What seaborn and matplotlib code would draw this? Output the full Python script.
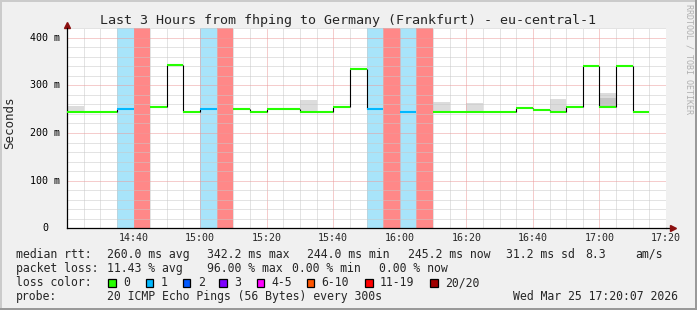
import numpy as np
import pandas as pd
import matplotlib
matplotlib.use("Agg")
import matplotlib.pyplot as plt
from matplotlib.patches import Rectangle
import seaborn as sns

# ---------------- data ----------------
# interval start, minutes after 14:20 (5-minute steps)
start_min = list(range(0, 180, 5))
median_ms = [245, 245, 245, 251, np.nan, 254, 342, 245, 251, np.nan,
             251, 245, 251, 251, 245, 245, 254, 335, 251, np.nan,
             245, np.nan, 245, 245, 245, 245, 245, 252, 249, 245,
             255, 341, 254, 341, 245, np.nan]
lost_pings = [0, 0, 0, 1, 19, 0, 0, 0, 1, 19,
              0, 0, 0, 0, 0, 0, 0, 0, 1, 19,
              1, 19, 0, 0, 0, 0, 0, 0, 0, 0,
              0, 0, 0, 0, 0, -1]
smoke_start = [0, 70, 110, 120, 145, 160]
smoke_low = [245, 245, 245, 245, 246, 253]
smoke_high = [257, 270, 265, 262, 271, 284]
dark_smoke_start = [160]
dark_smoke_low = [257]
dark_smoke_high = [274]

tick_min = [20, 40, 60, 80, 100, 120, 140, 160, 180]
tick_labels = ["14:40", "15:00", "15:20", "15:40", "16:00", "16:20", "16:40", "17:00", "17:20"]
y_ticks = [0, 100, 200, 300, 400]
y_labels = ["0", "100 m", "200 m", "300 m", "400 m"]

loss_names = ["0", "1", "2", "3", "4-5", "6-10", "11-19", "20/20"]
loss_colors = ["#26ff00", "#00b8ff", "#0059ff", "#7e00ff", "#ff00ff", "#ff5500", "#ff0000", "#a10000"]
loss_bg = {"1": "#a8e4fa", "11-19": "#ff8888"}

title = "Last 3 Hours from fhping to Germany (Frankfurt) - eu-central-1"
stats_lines = [
    ("median rtt:", [(107.3, "260.0 ms avg"), (207.3, "342.2 ms max"), (306.7, "244.0 ms min"),
                     (407.7, "245.2 ms now"), (505.7, "31.2 ms sd"), (585.0, "8.3"), (635.0, "am/s")]),
    ("packet loss:", [(107.3, "11.43 % avg"), (207.3, "96.00 % max"), (292.0, "0.00 % min"),
                      (379.3, "0.00 % now")]),
]
probe_text = "20 ICMP Echo Pings (56 Bytes) every 300s"
date_text = "Wed Mar 25 17:20:07 2026"


def loss_cat(n):
    if n == 0:
        return "0"
    if n == 1:
        return "1"
    if n == 2:
        return "2"
    if n == 3:
        return "3"
    if 4 <= n <= 5:
        return "4-5"
    if 6 <= n <= 10:
        return "6-10"
    if 11 <= n <= 19:
        return "11-19"
    if n == 20:
        return "20/20"
    return None


# ---------------- figure ----------------
W, H = 697, 310
sns.set_style("white")
plt.rcParams["font.family"] = ["DejaVu Sans Mono"]

fig = plt.figure(figsize=(W / 100, H / 100), dpi=100, facecolor="#f0f0f0")


def fx(x):
    return x / W


def fy(y):
    return 1 - y / H


# frame (light top/left, dark bottom/right)
fig.patches.append(Rectangle((0, 1 - 2 / H), 1, 2 / H, transform=fig.transFigure,
                             facecolor="#cbcbcb", edgecolor="none"))
fig.patches.append(Rectangle((0, 0), 2 / W, 1, transform=fig.transFigure,
                             facecolor="#cbcbcb", edgecolor="none"))
fig.patches.append(Rectangle((0, 0), 1, 2 / H, transform=fig.transFigure,
                             facecolor="#999999", edgecolor="none"))
fig.patches.append(Rectangle((1 - 2 / W, 0), 2 / W, 1, transform=fig.transFigure,
                             facecolor="#999999", edgecolor="none"))

x0, x1, ytop, ybot = 67, 666, 28, 228.3
ax = fig.add_axes([fx(x0), fy(ybot), (x1 - x0) / W, (ybot - ytop) / H])
ax.set_facecolor("white")
ax.set_xlim(0, 180)
ax.set_ylim(0, 420.4)

# loss backgrounds
for s, n in zip(start_min, lost_pings):
    c = loss_cat(n)
    if c in loss_bg:
        ax.axvspan(s, s + 5, color=loss_bg[c], lw=0, zorder=0.5)

# smoke
ax.bar(smoke_start, np.array(smoke_high) - np.array(smoke_low), bottom=smoke_low,
       width=5, align="edge", color="#dcdcdc", lw=0, zorder=0.8)
ax.bar(dark_smoke_start, np.array(dark_smoke_high) - np.array(dark_smoke_low), bottom=dark_smoke_low,
       width=5, align="edge", color="#c4c4c4", lw=0, zorder=0.9)

# vertical connectors
for i in range(len(start_min) - 1):
    a, b = median_ms[i], median_ms[i + 1]
    if not (np.isnan(a) or np.isnan(b)) and a != b:
        ax.vlines(start_min[i + 1], min(a, b), max(a, b), color="black", lw=0.8, zorder=2)

# median segments, coloured by loss
rows = []
for i, (s, m, n) in enumerate(zip(start_min, median_ms, lost_pings)):
    if np.isnan(m):
        continue
    c = loss_cat(n)
    rows.append({"t": s, "rtt": m, "seg": i, "loss": c})
    rows.append({"t": s + 5, "rtt": m, "seg": i, "loss": c})
seg = pd.DataFrame(rows)
pal = dict(zip(loss_names, loss_colors))
sns.lineplot(data=seg, x="t", y="rtt", hue="loss", units="seg", estimator=None, sort=False,
             palette={k: pal[k] for k in seg["loss"].unique()}, lw=1.5, legend=False, ax=ax,
             zorder=3, solid_capstyle="butt")

# grid
ax.set_xticks(tick_min)
ax.set_xticks(np.arange(0, 181, 5), minor=True)
ax.set_yticks(y_ticks)
ax.set_yticks(np.arange(0, 421, 20), minor=True)
ax.set_axisbelow("line")
ax.grid(which="minor", color="#c8c8c8", lw=0.72, linestyle=(0, (1, 1)))
ax.grid(which="major", color="#ec9a9a", lw=0.72, linestyle=(0, (1, 1)))
ax.set_xticklabels(tick_labels, fontsize=7.2)
ax.set_yticklabels([])
ax.tick_params(axis="both", which="both", length=0)
ax.tick_params(axis="x", pad=3.6)
ax.set_xlabel("")
ax.set_ylabel("")
for sp in ["top", "right"]:
    ax.spines[sp].set_visible(False)
for sp in ["left", "bottom"]:
    ax.spines[sp].set_color("black")
    ax.spines[sp].set_linewidth(0.9)

# axis extensions + arrows
ax.plot([1.0, 1.012], [0, 0], transform=ax.transAxes, color="black", lw=0.9, clip_on=False)
ax.plot([0, 0], [1.0, 1.012], transform=ax.transAxes, color="black", lw=0.9, clip_on=False)
ax.plot([1.012], [0], marker=">", ms=4.5, color="#8b1010", transform=ax.transAxes, clip_on=False)
ax.plot([0], [1.015], marker="^", ms=4.5, color="#8b1010", transform=ax.transAxes, clip_on=False)

# y labels
for v, lab in zip(y_ticks, y_labels):
    ypx = ybot - v * (ybot - ytop) / 420.4
    xpx = 42 if lab == "0" else 30
    fig.text(fx(xpx), fy(ypx), lab, fontsize=7.2, ha="left", va="center", color="black")

# title and labels
fig.text(fx(348), fy(24), title, fontsize=9.6, ha="center", va="baseline")
fig.text(fx(10), fy(122.5), "Seconds", fontsize=9.0, rotation=90, ha="center", va="center")
fig.text(fx(688.5), fy(59), "RRDTOOL / TOBI OETIKER", fontsize=6, rotation=270,
         ha="center", va="center", color="#b0b0b0")

# legend / stats
base = [257.8, 271.8, 286.0, 300.0]
fs = 8.3
for (head, parts), b in zip(stats_lines, base[:2]):
    fig.text(fx(16), fy(b), head, fontsize=fs, va="baseline")
    for xp, t in parts:
        fig.text(fx(xp), fy(b), t, fontsize=fs, va="baseline")

fig.text(fx(16), fy(base[2]), "loss color:", fontsize=fs, va="baseline")
box_x = [108.3, 145.7, 182.7, 219.3, 256.7, 306.7, 365.0, 430.0]
for bx, name, col in zip(box_x, loss_names, loss_colors):
    fig.patches.append(Rectangle((fx(bx), fy(286.5)), 7.6 / W, 8 / H, transform=fig.transFigure,
                                 facecolor=col, edgecolor="black", lw=0.9))
    fig.text(fx(bx + 15), fy(base[2]), name, fontsize=fs, va="baseline")

fig.text(fx(16), fy(base[3]), "probe:", fontsize=fs, va="baseline")
fig.text(fx(107.3), fy(base[3]), probe_text, fontsize=fs, va="baseline")
fig.text(fx(513.3), fy(base[3]), date_text, fontsize=fs, va="baseline")

fig.savefig("out.png", dpi=100, facecolor=fig.get_facecolor())
